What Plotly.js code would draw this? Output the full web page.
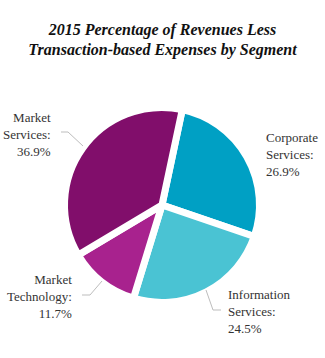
<!DOCTYPE html>
<html>
<head>
<meta charset="utf-8">
<script src="https://cdn.plot.ly/plotly-3.0.1.min.js"></script>
</head>
<body style="margin:0;background:#fff">
<div id="chart" style="width:325px;height:358px"></div>
<script>
const segments = ["Corporate Services", "Information Services", "Market Technology", "Market Services"];
const shares = [26.9, 24.5, 11.7, 36.9];
const colors = ["#00a0c4", "#4ac3d3", "#a8228e", "#810e6b"];
const chartTitle = "2015 Percentage of Revenues Less<br>Transaction-based Expenses by Segment";

const W = 325, H = 358;
const px = x => x / W;
const py = y => 1 - y / H;
const SERIF = "Liberation Serif";

function labelText(name, v) {
  return name.split(" ").join("<br>") + ":<br>" + v.toFixed(1) + "%";
}

// label placement (pixels): [x, y, xanchor]
const labelPos = {
  "Corporate Services": [264, 154, "left"],
  "Information Services": [226, 311, "left"],
  "Market Technology": [74, 296, "right"],
  "Market Services": [53, 134, "right"]
};
// leader lines (pixels)
const leaders = {
  "Market Services": [[61, 132], [68, 132], [83, 146]],
  "Market Technology": [[82, 295], [90, 295], [102, 281]],
  "Information Services": [[221, 310], [213, 310], [206, 290]]
};

const annotations = segments.map((s, i) => {
  const p = labelPos[s];
  return {
    text: labelText(s, shares[i]),
    x: px(p[0]), y: py(p[1]), xref: "paper", yref: "paper",
    xanchor: p[2], yanchor: "middle", align: p[2],
    showarrow: false,
    font: {family: SERIF, size: 13, color: "#333333"}
  };
});

const shapes = [];
Object.keys(leaders).forEach(k => {
  const pts = leaders[k];
  for (let j = 0; j < pts.length - 1; j++) {
    shapes.push({
      type: "line", xref: "paper", yref: "paper",
      x0: px(pts[j][0]), y0: py(pts[j][1]), x1: px(pts[j+1][0]), y1: py(pts[j+1][1]),
      line: {color: "#bdbdbd", width: 1}
    });
  }
});

const cx = 162, cy = 205, R = 97.5;

const data = [{
  type: "pie",
  labels: segments,
  values: shares,
  sort: false,
  direction: "clockwise",
  rotation: 12,
  marker: {colors: colors, line: {color: "#ffffff", width: 7}},
  textinfo: "none",
  domain: {x: [px(cx - R), px(cx + R)], y: [py(cy + R), py(cy - R)]}
}];

const layout = {
  width: W, height: H,
  margin: {l: 0, r: 0, t: 0, b: 0},
  showlegend: false,
  title: {
    text: "<b><i>" + chartTitle + "</i></b>",
    x: 0.5, xanchor: "center",
    y: 1 - 34.5 / H, yanchor: "middle",
    font: {family: SERIF, size: 16, color: "#111111"}
  },
  annotations: annotations,
  shapes: shapes
};

function drawChart() {
  Plotly.newPlot("chart", data, layout, {displayModeBar: false});
}
if (document.fonts && document.fonts.load) {
  Promise.all([
    document.fonts.load('13px "Liberation Serif"'),
    document.fonts.load('italic bold 16px "Liberation Serif"')
  ]).then(drawChart, drawChart);
} else {
  drawChart();
}
</script>
</body>
</html>
